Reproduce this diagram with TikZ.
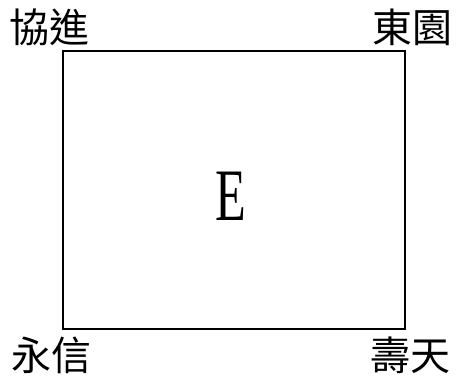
\documentclass[tikz,border=0pt]{standalone}
\usepackage{fontspec}
\setmainfont{Liberation Serif}
\newfontfamily\cjk{Noto Sans CJK TC}
\usepackage{graphicx}

\begin{document}
\begin{tikzpicture}[x=0.5pt,y=-0.5pt,
  corner/.style={font=\cjk\fontsize{20}{20}\selectfont,inner sep=0pt},
  mid/.style={font=\fontsize{37}{37}\selectfont,inner sep=0pt}]
  \useasboundingbox (0,0) rectangle (457,376);
  \draw[line width=1.1pt] (63,51) rectangle (405,329);
  \node[mid] (e) at (231,196) {\scalebox{0.68}[1]{E}};
  \node[corner] (xj) at (50,27) {協進};
  \node[corner] (dy) at (413,27) {東園};
  \node[corner] (yx) at (51,355) {永信};
  \node[corner] (st) at (411,355) {壽天};
\end{tikzpicture}
\end{document}
